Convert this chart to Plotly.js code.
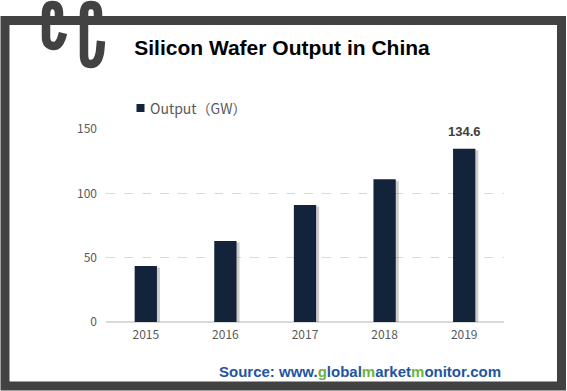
<!DOCTYPE html>
<html>
<head>
<meta charset="utf-8">
<script src="https://cdn.plot.ly/plotly-3.0.1.min.js"></script>
<style>html,body{margin:0;padding:0;background:#fff;}#chart{width:567px;height:391px;}</style>
</head>
<body>
<div id="chart"></div>
<script>
// ---- data ----
var years = ['2015', '2016', '2017', '2018', '2019'];
var output = [43.5, 63, 91, 111, 134.6];
var yTicks = [0, 50, 100, 150];
var seriesName = 'Output（GW）';
var chartTitle = 'Silicon Wafer Output in China';

// ---- layout helpers (pixel -> paper) ----
var L = 106, R = 504, T = 129, B = 322;
function px(x) { return (x - L) / (R - L); }
function py(y) { return (B - y) / (B - T); }
function pathPx(s) {
  return s.replace(/(-?\d+\.?\d*),(-?\d+\.?\d*)/g, function (m, a, b) {
    return px(+a).toFixed(5) + ',' + py(+b).toFixed(5);
  });
}

var barColor = '#12233a';
var barW = 0.28;
var lastIdx = output.length - 1;

var shadow = {
  type: 'bar', x: years, y: output.map(function (v) { return v - 1.2; }),
  width: barW, offset: -barW / 2 + 3 / 79.6,
  marker: { color: 'rgba(90,90,90,0.3)' },
  hoverinfo: 'skip', showlegend: false
};
var main = {
  type: 'bar', x: years, y: output, name: seriesName,
  width: barW, offset: -barW / 2,
  marker: { color: barColor },
  showlegend: false
};

var frameColor = '#424242';
var shapes = [
  { type: 'rect', xref: 'paper', yref: 'paper',
    x0: px(5), x1: px(561.5), y0: py(386), y1: py(20.5),
    line: { color: frameColor, width: 9 }, fillcolor: 'rgba(0,0,0,0)', layer: 'above' },
  { type: 'path', xref: 'paper', yref: 'paper',
    path: pathPx('M59,22 L59,14 Q59,5 52.5,5 Q46,5 46,14 L46,37 Q46,46 54,46 Q60,46 63,33'),
    line: { color: frameColor, width: 8.5 }, layer: 'above' },
  { type: 'path', xref: 'paper', yref: 'paper',
    path: pathPx('M98,22 L98,14 Q98,5 91,5 Q84,5 84,14 L84,55 Q84,64 91,64 Q98,64 100,52 L101,41'),
    line: { color: frameColor, width: 8.5 }, layer: 'above' },
  // legend swatch
  { type: 'rect', xref: 'paper', yref: 'paper',
    x0: px(136.5), x1: px(144.5), y0: py(112), y1: py(104),
    line: { width: 0 }, fillcolor: barColor }
];

var annotations = [
  { xref: 'paper', yref: 'paper', x: px(148), y: py(108), xanchor: 'left', yanchor: 'middle',
    text: seriesName, showarrow: false,
    font: { family: 'Noto Sans CJK SC, Noto Sans, sans-serif', size: 14, color: '#595959' } },
  // value label on the last bar (x: centre of last category on the [-0.5, n-0.5] category range)
  { xref: 'paper', yref: 'y', x: (lastIdx + 0.5) / years.length, y: output[lastIdx],
    yshift: 8, xanchor: 'center', yanchor: 'bottom',
    text: String(output[lastIdx]), showarrow: false,
    font: { family: 'Liberation Sans, Arial, sans-serif', size: 13, color: '#404040', weight: 'bold' } },
  { xref: 'paper', yref: 'paper', x: px(360), y: py(371), xanchor: 'center', yanchor: 'middle',
    text: '<b><span style="color:#1f55a0">Source: www.</span><span style="color:#6db33f">g</span><span style="color:#1f55a0">lobal</span><span style="color:#6db33f">m</span><span style="color:#1f55a0">arket</span><span style="color:#6db33f">m</span><span style="color:#1f55a0">onitor.com</span></b>',
    showarrow: false,
    font: { family: 'Liberation Sans, Arial, sans-serif', size: 15, color: '#1f55a0' } }
];

var layout = {
  width: 567, height: 391,
  margin: { l: L, r: 567 - R, t: T, b: 391 - B, pad: 0 },
  paper_bgcolor: '#ffffff', plot_bgcolor: '#ffffff',
  barmode: 'overlay',
  title: { text: '<b>' + chartTitle + '</b>', xref: 'container', x: 282 / 567, xanchor: 'center',
    yref: 'container', y: 1 - 48 / 391, yanchor: 'middle',
    font: { family: 'Liberation Sans, Arial, sans-serif', size: 21, color: '#000000' } },
  xaxis: { type: 'category', range: [-0.5, years.length - 0.5], showgrid: false, showline: false,
    zeroline: false, ticks: '',
    tickfont: { family: 'Noto Sans CJK SC, Noto Sans, sans-serif', size: 12, color: '#595959' },
    ticklabelstandoff: 4 },
  yaxis: { range: [0, 150], tickvals: yTicks, showgrid: true, gridcolor: '#d9d9d9', griddash: 'dash',
    gridwidth: 1, zeroline: true, zerolinecolor: '#d9d9d9', zerolinewidth: 1.5, showline: false, ticks: '',
    tickfont: { family: 'Noto Sans CJK SC, Noto Sans, sans-serif', size: 12, color: '#595959' },
    ticklabelstandoff: 8 },
  shapes: shapes,
  annotations: annotations,
  showlegend: false
};

Plotly.newPlot('chart', [shadow, main], layout, { displayModeBar: false, staticPlot: true });
</script>
</body>
</html>
